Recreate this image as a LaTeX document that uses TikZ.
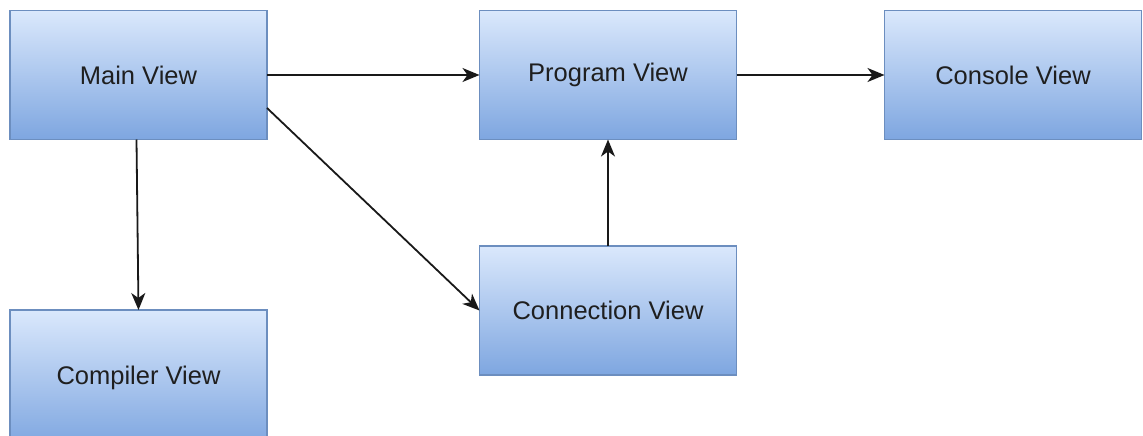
\documentclass[tikz,border=0pt]{standalone}
\usepackage{fontspec}
\setmainfont{Liberation Sans}
\usetikzlibrary{arrows.meta}
\definecolor{boxtop}{HTML}{DAE8FC}
\definecolor{boxbot}{HTML}{7EA6E0}
\definecolor{boxline}{HTML}{6C8EBF}
\tikzset{
  viewbox/.style={draw=boxline, line width=1.2pt, top color=boxtop, bottom color=boxbot,
    minimum width=257pt, minimum height=129pt, inner sep=0pt, outer sep=0pt,
    font=\fontsize{25.5}{30}\selectfont, text=black!88},
  link/.style={line width=1.8pt, draw=black!90, -{Stealth[length=17pt,width=14pt,inset=5pt]}}
}
\begin{document}
\begin{tikzpicture}[x=1pt,y=-1pt]
\useasboundingbox (0,0) rectangle (1143,436);
\node[viewbox] (main) at (138.5,75) {Main View};
\node[viewbox] (program) at (608,75) {Program View};
\node[viewbox] (console) at (1013,75) {Console View};
\node[viewbox] (connection) at (608,310.5) {Connection View};
\node[viewbox, minimum height=136pt] (compiler) at (138.5,378) {Compiler View};
\draw[link] (main.east) -- (program.west);
\draw[link] (program.east) -- (console.west);
\draw[link] (connection.north) -- (program.south);
\draw[link] ([yshift=-33pt]main.east) -- (connection.west);
\draw[link] ([xshift=-2pt]main.south) -- (compiler.north);
\end{tikzpicture}
\end{document}
